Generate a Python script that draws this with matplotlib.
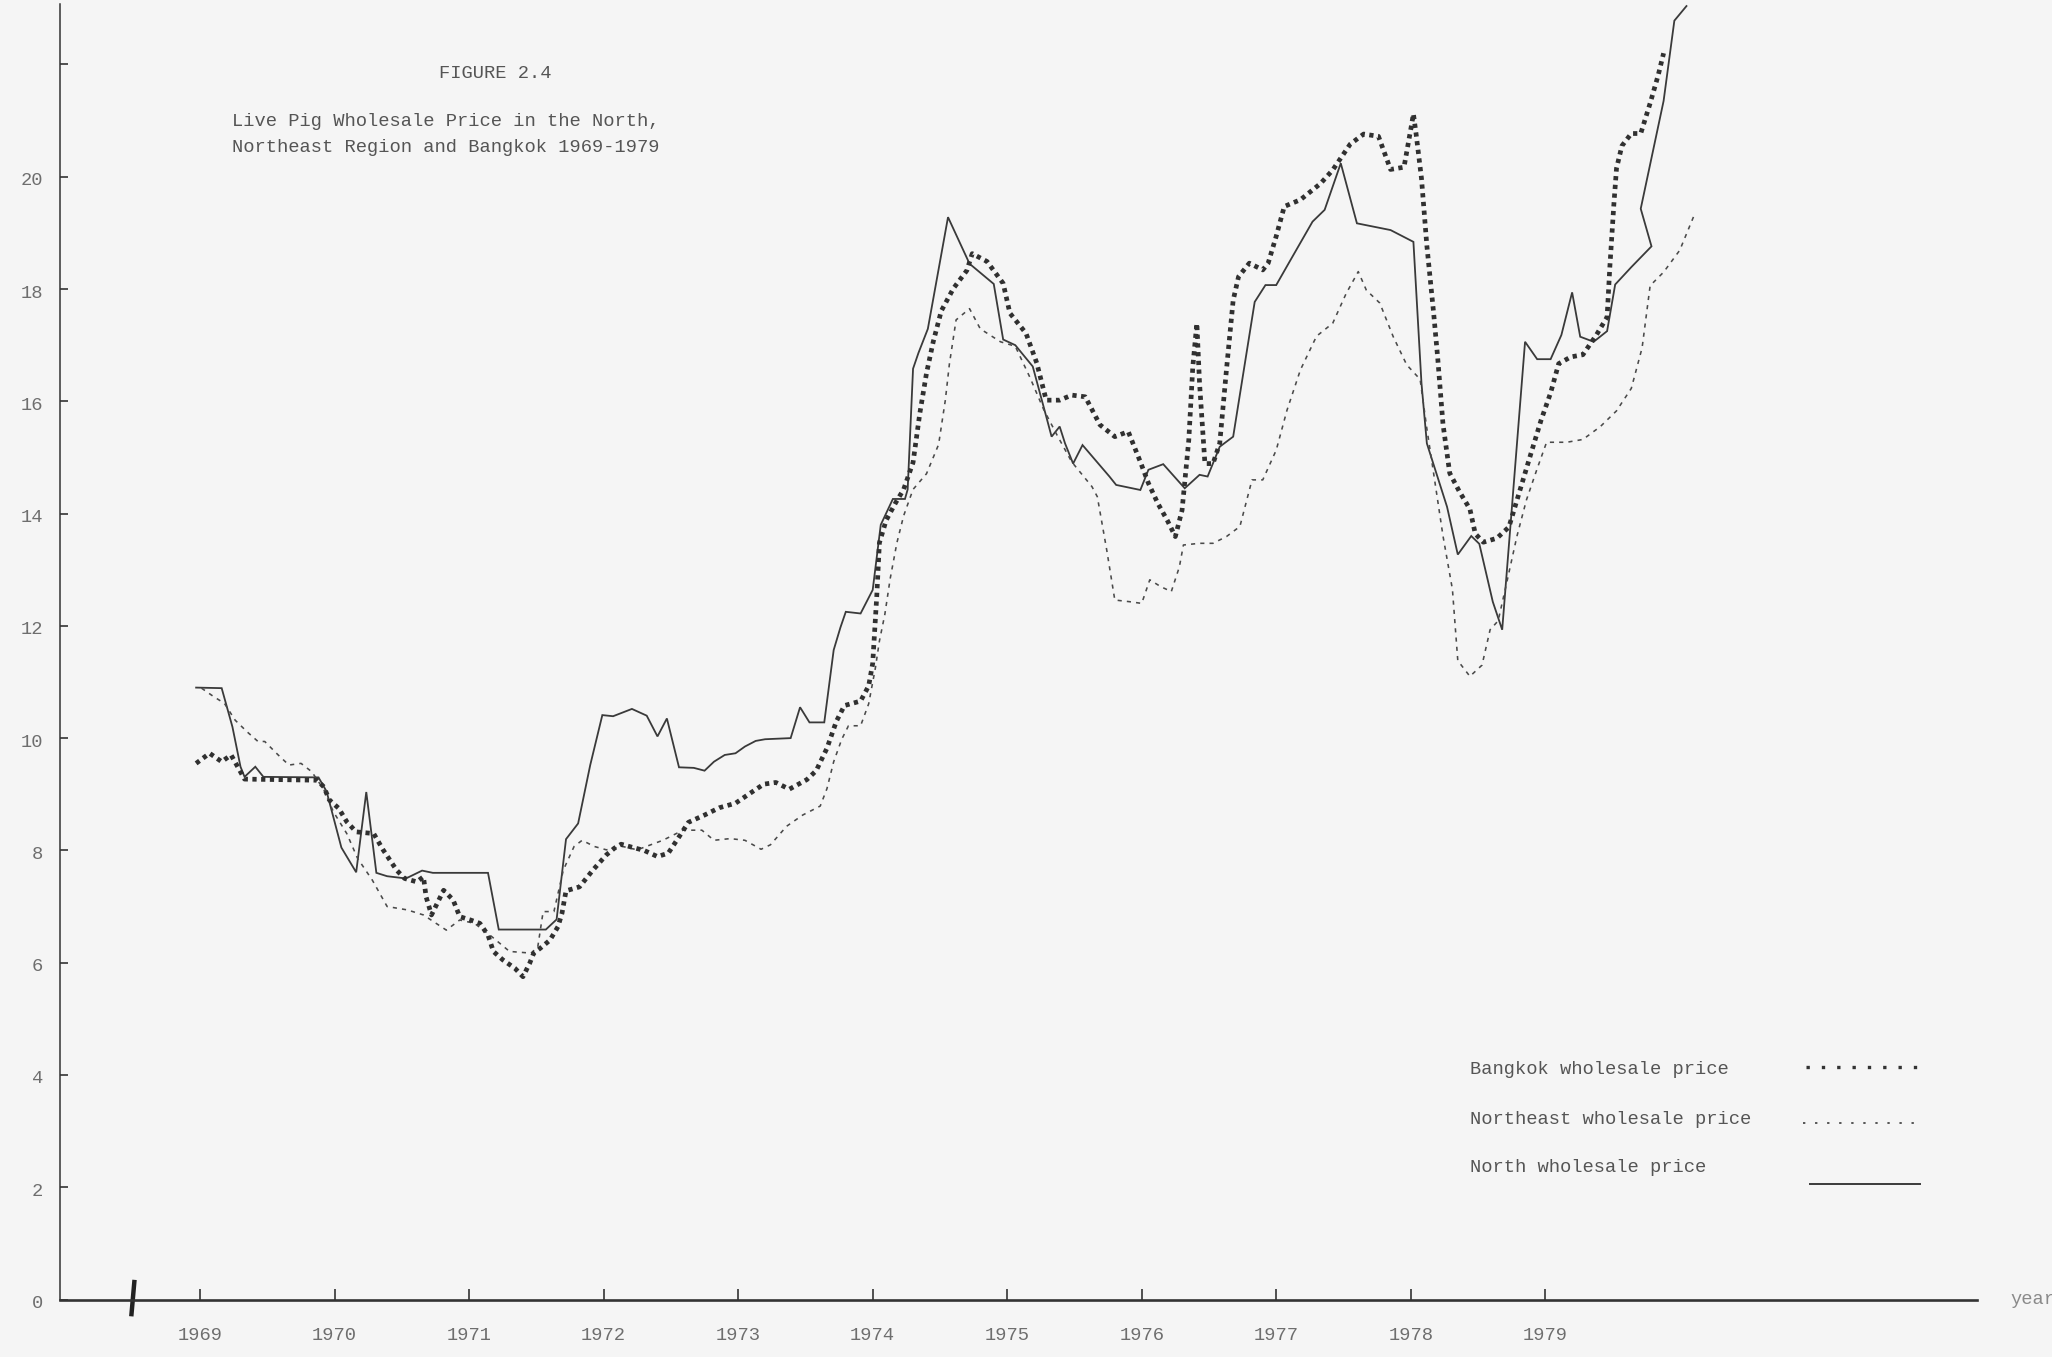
import matplotlib
matplotlib.use("Agg")
import matplotlib.pyplot as plt
from matplotlib.lines import Line2D
from matplotlib.transforms import ScaledTranslation

# Monthly-ish readings, price per kg (baht)
north_t = [1968.97, 1969.16, 1969.24, 1969.30, 1969.33, 1969.41, 1969.47, 1969.88, 1969.94,
           1970.05, 1970.16, 1970.235, 1970.31, 1970.39, 1970.53, 1970.65, 1970.73, 1971.14,
           1971.22, 1971.57, 1971.65, 1971.72, 1971.81, 1971.90, 1971.99, 1972.07, 1972.21,
           1972.32, 1972.40, 1972.47, 1972.56, 1972.67, 1972.75, 1972.82, 1972.90, 1972.98,
           1973.05, 1973.13, 1973.20, 1973.39, 1973.46, 1973.53, 1973.64, 1973.71, 1973.76,
           1973.80, 1973.91, 1974.00, 1974.06, 1974.15, 1974.24, 1974.26, 1974.30, 1974.34,
           1974.41, 1974.56, 1974.72, 1974.90, 1974.97, 1975.06, 1975.19, 1975.29, 1975.33,
           1975.39, 1975.43, 1975.49, 1975.56, 1975.76, 1975.81, 1975.99, 1976.05, 1976.16,
           1976.32, 1976.43, 1976.49, 1976.58, 1976.68, 1976.84, 1976.92, 1977.00, 1977.10,
           1977.27, 1977.36, 1977.48, 1977.60, 1977.85, 1978.02, 1978.08, 1978.12, 1978.27,
           1978.35, 1978.45, 1978.51, 1978.61, 1978.68, 1978.85, 1978.94, 1979.04, 1979.12,
           1979.20, 1979.26, 1979.36, 1979.46, 1979.52, 1979.64, 1979.79, 1979.71, 1979.88,
           1979.96, 1980.05]
north_v = [10.90, 10.89, 10.20, 9.49, 9.31, 9.49, 9.31, 9.30, 9.05,
           8.05, 7.61, 9.04, 7.60, 7.54, 7.50, 7.64, 7.60, 7.60,
           6.59, 6.59, 6.77, 8.20, 8.48, 9.52, 10.41, 10.39, 10.52,
           10.40, 10.03, 10.35, 9.48, 9.47, 9.42, 9.58, 9.70, 9.73,
           9.85, 9.95, 9.98, 10.00, 10.55, 10.28, 10.28, 11.57, 11.97,
           12.25, 12.22, 12.64, 13.80, 14.26, 14.26, 14.43, 16.58, 16.86,
           17.29, 19.28, 18.45, 18.09, 17.10, 17.00, 16.62, 15.73, 15.37,
           15.55, 15.25, 14.89, 15.22, 14.66, 14.51, 14.42, 14.78, 14.88,
           14.45, 14.69, 14.66, 15.19, 15.37, 17.77, 18.07, 18.07, 18.49,
           19.20, 19.41, 20.24, 19.17, 19.05, 18.84, 16.32, 15.25, 14.12,
           13.27, 13.60, 13.46, 12.43, 11.93, 17.06, 16.75, 16.75, 17.18,
           17.94, 17.15, 17.06, 17.25, 18.08, 18.39, 18.76, 19.43, 21.35,
           22.78, 23.04]

bangkok_t = [1968.97, 1969.07, 1969.16, 1969.23, 1969.30, 1969.33, 1969.87, 1969.92, 1969.96,
             1970.03, 1970.09, 1970.16, 1970.29, 1970.36, 1970.46, 1970.52, 1970.61, 1970.66,
             1970.68, 1970.72, 1970.81, 1970.88, 1970.93, 1971.01, 1971.08, 1971.14, 1971.18,
             1971.25, 1971.34, 1971.40, 1971.45, 1971.48, 1971.53, 1971.60, 1971.66, 1971.69,
             1971.72, 1971.82, 1971.92, 1972.02, 1972.08, 1972.13, 1972.22, 1972.30, 1972.40,
             1972.48, 1972.56, 1972.63, 1972.75, 1972.86, 1972.98, 1973.09, 1973.19, 1973.28,
             1973.38, 1973.51, 1973.58, 1973.66, 1973.73, 1973.79, 1973.91, 1973.97, 1974.00,
             1974.03, 1974.05, 1974.10, 1974.17, 1974.23, 1974.30, 1974.35, 1974.40, 1974.45,
             1974.51, 1974.60, 1974.70, 1974.74, 1974.85, 1974.97, 1975.02, 1975.14, 1975.22,
             1975.29, 1975.39, 1975.48, 1975.58, 1975.69, 1975.80, 1975.90, 1975.99, 1976.05,
             1976.12, 1976.19, 1976.25, 1976.30, 1976.35, 1976.38, 1976.41, 1976.43, 1976.47,
             1976.53, 1976.58, 1976.63, 1976.68, 1976.72, 1976.80, 1976.90, 1976.94, 1977.00,
             1977.06, 1977.18, 1977.33, 1977.42, 1977.55, 1977.65, 1977.76, 1977.85, 1977.95,
             1978.00, 1978.02, 1978.04, 1978.08, 1978.12, 1978.17, 1978.20, 1978.24, 1978.29,
             1978.36, 1978.44, 1978.48, 1978.54, 1978.64, 1978.73, 1978.79, 1978.89, 1978.97,
             1979.04, 1979.10, 1979.19, 1979.28, 1979.38, 1979.46, 1979.48, 1979.51, 1979.53,
             1979.57, 1979.64, 1979.71, 1979.78, 1979.84, 1979.88]
bangkok_v = [9.55, 9.73, 9.58, 9.70, 9.40, 9.27, 9.25, 9.13, 8.90,
             8.75, 8.51, 8.33, 8.30, 8.01, 7.65, 7.50, 7.44, 7.53,
             7.17, 6.85, 7.29, 7.12, 6.82, 6.76, 6.70, 6.49, 6.20,
             6.05, 5.90, 5.75, 5.99, 6.17, 6.26, 6.40, 6.64, 6.88,
             7.28, 7.35, 7.65, 7.92, 8.04, 8.11, 8.05, 8.00, 7.89,
             7.95, 8.24, 8.50, 8.63, 8.76, 8.84, 9.02, 9.18, 9.21,
             9.09, 9.26, 9.42, 9.82, 10.30, 10.58, 10.66, 10.93, 11.33,
             12.52, 13.48, 13.88, 14.19, 14.43, 14.91, 15.78, 16.50, 17.06,
             17.61, 18.01, 18.33, 18.63, 18.49, 18.10, 17.57, 17.21, 16.68,
             16.02, 16.02, 16.11, 16.08, 15.58, 15.37, 15.46, 14.92, 14.54,
             14.18, 13.88, 13.59, 14.06, 15.31, 16.62, 17.39, 16.32, 14.89,
             14.89, 15.25, 16.56, 17.80, 18.22, 18.46, 18.34, 18.46, 18.94,
             19.47, 19.59, 19.88, 20.12, 20.58, 20.76, 20.72, 20.13, 20.17,
             20.84, 21.12, 20.76, 19.97, 18.77, 17.58, 16.79, 15.59, 14.72,
             14.40, 14.08, 13.64, 13.49, 13.56, 13.76, 14.24, 15.04, 15.67,
             16.15, 16.67, 16.79, 16.83, 17.18, 17.50, 18.38, 19.50, 20.15,
             20.55, 20.77, 20.77, 21.31, 21.81, 22.20]

northeast_t = [1969.01, 1969.10, 1969.18, 1969.26, 1969.35, 1969.43, 1969.48, 1969.58, 1969.66,
               1969.75, 1969.83, 1969.92, 1969.99, 1970.09, 1970.17, 1970.28, 1970.39, 1970.54,
               1970.66, 1970.83, 1970.93, 1971.04, 1971.17, 1971.30, 1971.46, 1971.51, 1971.55,
               1971.63, 1971.70, 1971.78, 1971.84, 1971.93, 1972.02, 1972.14, 1972.25, 1972.35,
               1972.44, 1972.59, 1972.73, 1972.82, 1972.94, 1973.05, 1973.17, 1973.24, 1973.36,
               1973.48, 1973.61, 1973.66, 1973.71, 1973.77, 1973.82, 1973.91, 1973.97, 1974.02,
               1974.05, 1974.09, 1974.13, 1974.18, 1974.23, 1974.30, 1974.40, 1974.49, 1974.54,
               1974.57, 1974.62, 1974.72, 1974.80, 1974.95, 1975.06, 1975.17, 1975.27, 1975.37,
               1975.48, 1975.63, 1975.67, 1975.74, 1975.80, 1975.91, 1976.00, 1976.06, 1976.14,
               1976.22, 1976.28, 1976.31, 1976.43, 1976.53, 1976.63, 1976.73, 1976.82, 1976.90,
               1977.00, 1977.08, 1977.18, 1977.30, 1977.42, 1977.52, 1977.61, 1977.67, 1977.77,
               1977.87, 1977.97, 1978.07, 1978.12, 1978.16, 1978.20, 1978.24, 1978.31, 1978.35,
               1978.44, 1978.53, 1978.59, 1978.65, 1978.71, 1978.79, 1978.86, 1978.94, 1979.01,
               1979.16, 1979.28, 1979.41, 1979.53, 1979.64, 1979.72, 1979.78, 1979.88, 1980.00,
               1980.11]
northeast_v = [10.89, 10.74, 10.62, 10.32, 10.11, 9.94, 9.94, 9.70, 9.52,
               9.55, 9.40, 9.08, 8.69, 8.30, 7.86, 7.47, 7.00, 6.94,
               6.85, 6.58, 6.76, 6.70, 6.46, 6.20, 6.17, 6.28, 6.91,
               6.91, 7.65, 8.07, 8.18, 8.07, 8.01, 8.07, 8.01, 8.10,
               8.18, 8.36, 8.36, 8.18, 8.21, 8.18, 8.02, 8.10, 8.43,
               8.63, 8.79, 9.10, 9.58, 9.98, 10.22, 10.22, 10.61, 11.25,
               11.73, 12.20, 12.84, 13.48, 13.96, 14.43, 14.71, 15.23, 16.02,
               16.66, 17.45, 17.65, 17.29, 17.06, 16.98, 16.42, 15.86, 15.40,
               14.92, 14.48, 14.30, 13.35, 12.46, 12.43, 12.40, 12.82, 12.70,
               12.61, 13.05, 13.44, 13.47, 13.47, 13.59, 13.77, 14.60, 14.60,
               15.13, 15.84, 16.56, 17.16, 17.39, 17.92, 18.31, 17.98, 17.75,
               17.15, 16.65, 16.39, 15.51, 14.88, 14.24, 13.60, 12.65, 11.38,
               11.10, 11.30, 11.93, 12.09, 12.73, 13.60, 14.24, 14.80, 15.27,
               15.27, 15.32, 15.55, 15.83, 16.23, 16.95, 18.06, 18.30, 18.69,
               19.33]

years = list(range(1969, 1980))
y_ticks = list(range(0, 23, 2))
y_labels = [str(v) if v <= 20 else "" for v in y_ticks]

title_lines = ["FIGURE 2.4",
               "Live Pig Wholesale Price in the North,",
               "Northeast Region and Bangkok 1969-1979"]
legend_labels = ["Bangkok wholesale price",
                 "Northeast wholesale price",
                 "North wholesale price"]

FONT = "Liberation Mono"
BG = "#f5f5f5"
INK = "#3a3a3a"
TXT = "#6e6e6e"

W, H = 2052, 1357
fig = plt.figure(figsize=(W / 100, H / 100), dpi=100)
fig.patch.set_facecolor(BG)


def fx(px):
    return px / W


def fy(py):
    return 1 - py / H


ax = fig.add_axes([fx(60), fy(1299.5), 1917 / W, (1299.5 - 2.7) / H])
ax.set_facecolor(BG)
ax.set_xlim(1967.958, 1982.21)
ax.set_ylim(0, 23.1)

# series
ax.plot(north_t, north_v, color=INK, lw=1.3, solid_joinstyle="miter", clip_on=False)
ax.plot(northeast_t, northeast_v, color="#4a4a4a", lw=1.15,
        linestyle=(0, (2.6, 3.2)), clip_on=False)
ax.plot(bangkok_t, bangkok_v, color="#303030", lw=3.4,
        linestyle=(0, (0.9, 0.95)), clip_on=False)

# axes styling
for side in ("top", "right"):
    ax.spines[side].set_visible(False)
ax.spines["left"].set_bounds(0, 23.08)
ax.spines["left"].set_linewidth(1.1)
ax.spines["left"].set_color("#333333")
ax.spines["bottom"].set_linewidth(1.9)
ax.spines["bottom"].set_color("#333333")

ax.set_xticks(years)
ax.set_xticklabels([str(y) for y in years])
ax.set_yticks(y_ticks)
ax.set_yticklabels(y_labels)
ax.tick_params(axis="x", direction="in", length=8, width=1.2, color="#333333",
               pad=20, labelsize=13.5, labelcolor=TXT)
ax.tick_params(axis="y", direction="in", length=6, width=1.2, color="#333333",
               pad=12, labelsize=13.5, labelcolor=TXT)
for lab in ax.get_xticklabels() + ax.get_yticklabels():
    lab.set_fontfamily(FONT)
shift = ScaledTranslation(0, -2 / 100, fig.dpi_scale_trans)
for lab in ax.get_yticklabels():
    lab.set_transform(lab.get_transform() + shift)

# axis break stroke near the origin
ax.plot([1968.488, 1968.512], [-0.3, 0.35], color="#222222", lw=3.2,
        solid_capstyle="butt", clip_on=False)

ax.text(1982.46, 0, "year", fontfamily=FONT, fontsize=13.5, color="#8a8a8a",
        ha="left", va="center", clip_on=False)

# title block
fig.text(fx(495), fy(73), title_lines[0], fontfamily=FONT, fontsize=13.5,
         color="#555555", ha="center", va="center")
fig.text(fx(232), fy(122), title_lines[1], fontfamily=FONT, fontsize=13.5,
         color="#555555", ha="left", va="center")
fig.text(fx(232), fy(147), title_lines[2], fontfamily=FONT, fontsize=13.5,
         color="#555555", ha="left", va="center")

# hand-laid legend
text_y = [1070, 1120, 1167]
for lbl, ty in zip(legend_labels, text_y):
    fig.text(fx(1470), fy(ty), lbl, fontfamily=FONT, fontsize=13.5,
             color="#555555", ha="left", va="center")
fig.add_artist(Line2D([fx(1806), fx(1917)], [fy(1067), fy(1067)], color="#333333",
                      lw=2.4, linestyle=(0, (1.0, 3.6)), transform=fig.transFigure))
fig.add_artist(Line2D([fx(1803), fx(1920)], [fy(1123), fy(1123)], color="#555555",
                      lw=1.4, linestyle=(0, (1.2, 5.0)), transform=fig.transFigure))
fig.add_artist(Line2D([fx(1810), fx(1920)], [fy(1184), fy(1184)], color="#3a3a3a",
                      lw=1.4, transform=fig.transFigure))

fig.savefig("out.png", dpi=100, facecolor=BG)
